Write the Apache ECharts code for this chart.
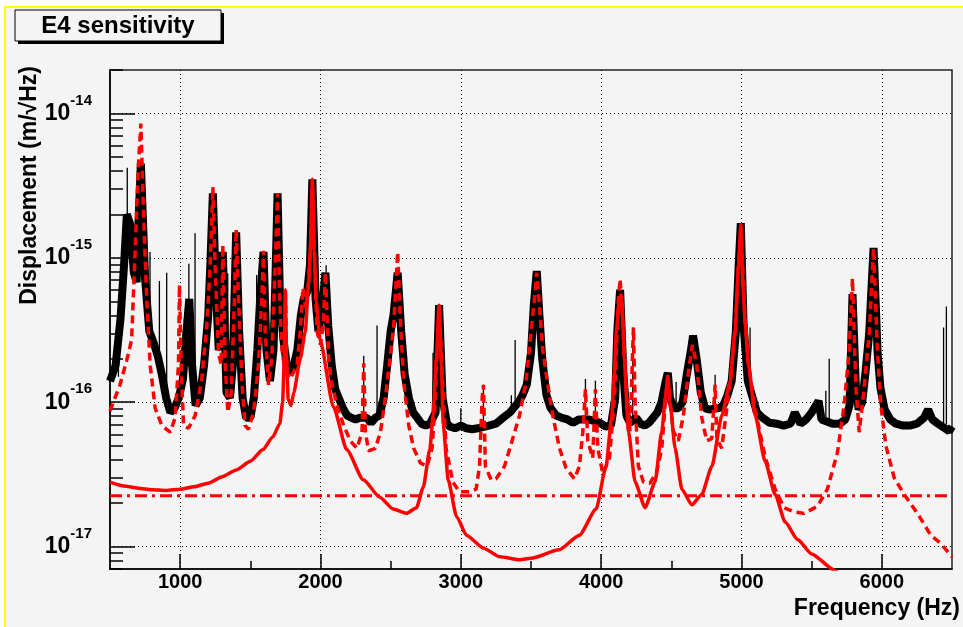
<!DOCTYPE html>
<html>
<head>
<meta charset="utf-8">
<title>E4 sensitivity</title>
<script src="https://cdn.jsdelivr.net/npm/echarts@6.0.0/dist/echarts.min.js"></script>
<style>
html, body { margin: 0; padding: 0; background: #fff; }
#chart { width: 963px; height: 627px; }
</style>
</head>
<body>
<div id="chart"></div>
<script>
// axis ranges / tick values
var xMin = 500, xMax = 6500;
var yMin = 7e-18, yMax = 2e-14;
var xMajor = [1000, 2000, 3000, 4000, 5000, 6000];
var xMinor = [1500, 2500, 3500, 4500, 5500];
var yMajor = [1e-17, 1e-16, 1e-15, 1e-14];
var yDecades = [1e-18, 1e-17, 1e-16, 1e-15, 1e-14];

// measured spectrum (black), [Hz, m/sqrt(Hz)]
var blackPts = [
  [500,1.4e-16],[540,1.8e-16],[575,3.8e-16],[600,8.9e-16],[620,2.0e-15],[645,1.7e-15],[670,7.9e-16],[690,6.8e-16],
  [705,2.0e-15],[720,4.5e-15],[735,1.8e-15],[750,7.2e-16],[780,3.1e-16],[810,2.6e-16],[840,2.1e-16],[870,1.55e-16],
  [900,1.07e-16],[930,8.5e-17],[960,9.1e-17],[990,1.07e-16],[1020,1.45e-16],[1045,3.1e-16],[1065,5.2e-16],[1085,1.8e-16],
  [1110,9.5e-17],[1140,1.07e-16],[1170,1.8e-16],[1200,4.0e-16],[1215,8.9e-16],[1233,2.8e-15],[1255,5.8e-16],[1275,2.3e-16],
  [1292,3.2e-16],[1304,1.1e-15],[1318,3.2e-16],[1330,1.17e-16],[1355,1.07e-16],[1375,1.8e-16],[1399,1.5e-15],[1420,3.1e-16],
  [1445,1.07e-16],[1470,7.8e-17],[1500,7.8e-17],[1525,1.07e-16],[1550,2.3e-16],[1570,5.2e-16],[1594,1.1e-15],[1615,2.3e-16],
  [1640,1.4e-16],[1665,2.3e-16],[1680,7.9e-16],[1694,2.8e-15],[1710,5.8e-16],[1735,2.75e-16],[1760,1.8e-16],[1785,1.6e-16],
  [1810,1.8e-16],[1835,2.3e-16],[1860,4.0e-16],[1880,5.2e-16],[1905,5.8e-16],[1925,8.9e-16],[1942,3.5e-15],[1965,5.2e-16],
  [1985,3.1e-16],[2010,4.3e-16],[2035,7.9e-16],[2055,3.4e-16],[2080,1.8e-16],[2105,1.23e-16],[2130,1.07e-16],[2160,9.1e-17],
  [2190,8.1e-17],[2220,7.8e-17],[2250,7.6e-17],[2280,7.8e-17],[2330,7.8e-17],[2360,7.2e-17],[2390,7.8e-17],[2420,8.1e-17],
  [2450,1.07e-16],[2475,1.8e-16],[2500,3.1e-16],[2520,4.0e-16],[2550,7.9e-16],[2575,3.1e-16],[2600,1.55e-16],[2630,1.07e-16],
  [2660,8.5e-17],[2690,7.8e-17],[2720,7.1e-17],[2750,6.9e-17],[2780,7.1e-17],[2820,8.5e-17],[2845,4.7e-16],[2870,1.07e-16],
  [2900,7.2e-17],[2920,6.8e-17],[2960,6.6e-17],[3000,6.9e-17],[3040,6.6e-17],[3080,6.5e-17],[3120,6.6e-17],[3200,6.9e-17],
  [3250,7.1e-17],[3300,7.8e-17],[3350,8.5e-17],[3410,1.0e-16],[3440,1.12e-16],[3470,1.32e-16],[3500,2.2e-16],[3520,4.7e-16],
  [3541,8.1e-16],[3560,4.0e-16],[3580,2.0e-16],[3610,1.12e-16],[3640,9.1e-17],[3680,8.1e-17],[3720,7.8e-17],[3760,7.6e-17],
  [3800,7.2e-17],[3840,7.6e-17],[3915,7.6e-17],[3990,7.2e-17],[4030,6.8e-17],[4070,6.9e-17],[4100,1.07e-16],[4115,3.1e-16],
  [4135,6.0e-16],[4158,1.6e-16],[4180,8.1e-17],[4205,7.2e-17],[4250,7.8e-17],[4280,7.1e-17],[4310,6.9e-17],[4340,7.2e-17],
  [4370,7.8e-17],[4400,8.5e-17],[4430,1.0e-16],[4460,1.4e-16],[4475,1.6e-16],[4490,1.07e-16],[4520,9.1e-17],[4550,9.1e-17],
  [4580,1.0e-16],[4610,1.55e-16],[4640,2.3e-16],[4655,2.9e-16],[4680,2.0e-16],[4710,1.17e-16],[4740,9.1e-17],[4770,8.9e-17],
  [4840,9.1e-17],[4870,9.5e-17],[4900,1.12e-16],[4930,1.4e-16],[4960,3.1e-16],[4980,8.9e-16],[4995,1.74e-15],[5015,3.4e-16],
  [5045,1.4e-16],[5080,1.07e-16],[5110,8.5e-17],[5150,7.8e-17],[5200,7.2e-17],[5250,7.1e-17],[5300,6.9e-17],[5350,7.1e-17],
  [5380,8.5e-17],[5420,7.1e-17],[5460,7.6e-17],[5500,8.5e-17],[5549,1.02e-16],[5570,7.6e-17],[5650,7.1e-17],[5700,7.1e-17],
  [5740,7.6e-17],[5770,9.5e-17],[5791,5.6e-16],[5815,1.26e-16],[5835,8.9e-17],[5860,1.0e-16],[5885,1.66e-16],[5910,3.0e-16],
  [5941,1.17e-15],[5970,2.2e-16],[5990,1.26e-16],[6020,8.9e-17],[6060,7.6e-17],[6100,7.1e-17],[6150,6.9e-17],[6200,6.9e-17],
  [6250,7.1e-17],[6300,7.8e-17],[6330,8.9e-17],[6360,7.6e-17],[6400,7.1e-17],[6480,6.3e-17],[6500,6.8e-17]
];

// narrow lines on top of the measured spectrum
var spikeFreq = [560, 623, 785, 852, 904, 1062, 1106, 1339, 1545, 2040, 2308, 2403, 2802, 3000, 3161, 3360, 3387, 3888, 3959, 4225, 4534, 4812, 5061, 5601, 5625, 6440, 6460];
var spikeBase = [1.5e-16, 1.8e-15, 3.2e-16, 2.0e-16, 1.1e-16, 4.5e-16, 1.0e-16, 1.1e-16, 2.0e-16, 6.5e-16, 7.8e-17, 7.8e-17, 7.5e-17, 6.9e-17, 6.6e-17, 8.5e-17, 9.0e-17, 7.6e-17, 7.6e-17, 7.5e-17, 9.1e-17, 8.9e-17, 1.2e-16, 7.5e-17, 7.5e-17, 7.0e-17, 7.0e-17];
var spikeTop  = [4.0e-16, 4.2e-15, 1.1e-15, 6.9e-16, 7.9e-16, 9.1e-16, 1.48e-15, 7.8e-16, 7.6e-16, 8.9e-16, 2.1e-16, 3.4e-16, 2.2e-16, 9.1e-17, 1.32e-16, 1.12e-16, 2.7e-16, 1.45e-16, 1.41e-16, 3.2e-16, 1.38e-16, 1.55e-16, 3.3e-16, 1.2e-16, 2.0e-16, 3.3e-16, 4.6e-16];

// red dashed model
var dashedPts = [
  [500,8.7e-17],[571,1.32e-16],[619,1.95e-16],[654,2.7e-16],[679,1.1e-15],[703,4.4e-15],[720,8.5e-15],[739,2.0e-15],
  [762,5.2e-16],[786,1.82e-16],[822,9.1e-17],[869,6.9e-17],[929,6.2e-17],[964,7.8e-17],[988,1.82e-16],[995,6.5e-16],
  [1007,1.82e-16],[1024,6.9e-17],[1059,6.6e-17],[1107,8.1e-17],[1154,1.45e-16],[1190,3.4e-16],[1214,8.9e-16],[1233,3.1e-15],
  [1249,8.9e-16],[1273,2.2e-16],[1292,1.82e-16],[1304,1.23e-15],[1321,1.82e-16],[1340,8.5e-17],[1364,1.17e-16],[1387,5.2e-16],
  [1399,1.58e-15],[1416,5.2e-16],[1440,1.38e-16],[1463,6.9e-17],[1487,6.5e-17],[1523,8.5e-17],[1558,1.82e-16],[1582,5.2e-16],
  [1594,1.12e-15],[1606,3.1e-16],[1630,1.32e-16],[1653,2.0e-16],[1677,8.9e-16],[1694,2.8e-15],[1709,5.2e-16],[1726,2.3e-16],
  [1742,1.78e-16],[1750,5.6e-16],[1760,1.58e-16],[1785,1.45e-16],[1833,1.82e-16],[1856,3.1e-16],[1875,6.2e-16],[1895,4.5e-16],
  [1916,6.8e-16],[1930,1.26e-15],[1942,3.5e-15],[1958,1.0e-15],[1975,3.1e-16],[2000,2.5e-16],[2020,3.5e-16],[2035,7.9e-16],
  [2058,2.0e-16],[2082,1.32e-16],[2118,9.5e-17],[2165,6.9e-17],[2213,5.4e-17],[2260,4.8e-17],[2296,6.2e-17],[2308,1.86e-16],
  [2320,6.2e-17],[2343,4.6e-17],[2391,4.8e-17],[2427,6.2e-17],[2462,1.07e-16],[2498,2.1e-16],[2522,3.4e-16],[2550,1.1e-15],
  [2569,3.8e-16],[2593,1.38e-16],[2629,6.9e-17],[2664,4.8e-17],[2712,3.8e-17],[2759,3.6e-17],[2795,4.8e-17],[2819,1.07e-16],
  [2845,4.7e-16],[2870,1.41e-16],[2895,4.8e-17],[2943,2.8e-17],[2990,2.4e-17],[3061,2.4e-17],[3109,2.5e-17],[3133,3.6e-17],
  [3152,1.07e-16],[3161,1.32e-16],[3175,3.6e-17],[3216,2.9e-17],[3251,2.95e-17],[3311,3.6e-17],[3370,5.6e-17],[3418,8.1e-17],
  [3465,1.38e-16],[3501,3.1e-16],[3525,5.2e-16],[3541,7.9e-16],[3560,4.7e-16],[3584,2.3e-16],[3620,1.32e-16],[3655,8.1e-17],
  [3703,4.8e-17],[3750,3.5e-17],[3810,2.95e-17],[3845,3.6e-17],[3869,6.2e-17],[3888,1.23e-16],[3905,5.4e-17],[3940,4.1e-17],
  [3959,1.23e-16],[3976,4.8e-17],[4012,3.2e-17],[4059,4.1e-17],[4095,1.07e-16],[4123,5.2e-16],[4135,7.1e-16],[4158,3.1e-16],
  [4182,1.07e-16],[4206,6.3e-17],[4230,3.3e-16],[4242,1.0e-16],[4265,3.6e-17],[4301,2.8e-17],[4348,2.75e-17],[4396,3.3e-17],
  [4432,4.8e-17],[4460,1.07e-16],[4475,1.58e-16],[4490,1.0e-16],[4515,6.3e-17],[4550,5.4e-17],[4586,8.1e-17],[4622,1.62e-16],
  [4650,2.5e-16],[4681,1.82e-16],[4717,7.8e-17],[4752,5.4e-17],[4788,5.6e-17],[4812,1.32e-16],[4824,5.6e-17],[4859,4.8e-17],
  [4919,1.38e-16],[4955,3.2e-16],[4979,8.9e-16],[4996,1.7e-15],[5026,3.6e-16],[5050,1.82e-16],[5097,8.9e-17],[5168,4.2e-17],
  [5240,2.5e-17],[5304,1.86e-17],[5375,1.74e-17],[5446,1.7e-17],[5541,1.9e-17],[5612,2.5e-17],[5684,4.5e-17],[5731,9.5e-17],
  [5767,2.24e-16],[5791,7.2e-16],[5815,1.26e-16],[5839,6.2e-17],[5874,1.26e-16],[5910,2.95e-16],[5941,1.17e-15],[5969,2.24e-16],
  [5993,9.5e-17],[6029,5.0e-17],[6088,3.0e-17],[6159,2.3e-17],[6254,1.7e-17],[6349,1.2e-17],[6421,1.05e-17],[6500,8.5e-18]
];

// red solid model
var solidPts = [
  [500,2.8e-17],[600,2.63e-17],[700,2.54e-17],[800,2.48e-17],[900,2.45e-17],[1000,2.5e-17],[1100,2.6e-17],[1200,2.75e-17],
  [1300,3.05e-17],[1400,3.4e-17],[1500,3.9e-17],[1590,4.7e-17],[1660,5.75e-17],[1710,7.1e-17],[1730,1.0e-16],[1742,2.0e-16],
  [1750,6.0e-16],[1758,2.0e-16],[1770,1.05e-16],[1790,9.5e-17],[1810,1.17e-16],[1856,2.0e-16],[1892,3.1e-16],[1916,6.8e-16],
  [1930,1.23e-15],[1942,3.5e-15],[1955,1.12e-15],[1970,5.0e-16],[1997,2.7e-16],[2092,9.3e-17],[2187,4.7e-17],[2305,2.9e-17],
  [2423,2.2e-17],[2518,1.82e-17],[2613,1.7e-17],[2684,1.86e-17],[2732,2.57e-17],[2779,4.7e-17],[2803,8.3e-17],[2826,2.0e-16],
  [2845,4.7e-16],[2862,1.78e-16],[2874,7.1e-17],[2910,2.9e-17],[2969,1.62e-17],[3040,1.2e-17],[3159,9.8e-18],[3278,8.5e-18],
  [3420,8.1e-18],[3500,8.3e-18],[3700,9.5e-18],[3845,1.2e-17],[3964,1.82e-17],[4035,3.6e-17],[4075,7.9e-17],[4094,1.6e-16],
  [4110,3.2e-16],[4130,5.2e-16],[4148,5.0e-16],[4165,2.0e-16],[4194,6.3e-17],[4242,2.8e-17],[4313,1.86e-17],[4384,2.8e-17],
  [4432,6.3e-17],[4460,1.12e-16],[4475,1.48e-16],[4490,1.0e-16],[4527,4.8e-17],[4575,2.5e-17],[4646,1.95e-17],[4717,2.3e-17],
  [4789,3.6e-17],[4860,8.1e-17],[4919,1.38e-16],[4955,3.1e-16],[4979,8.9e-16],[4996,1.7e-15],[5010,6.3e-16],[5026,3.6e-16],
  [5050,1.82e-16],[5097,8.1e-17],[5168,3.9e-17],[5240,2.3e-17],[5311,1.48e-17],[5400,1.12e-17],[5500,8.9e-18],[5660,6.9e-18],
  [5750,5.6e-18]
];

// flat red dash-dot level
var floorPts = [[500, 2.25e-17], [6500, 2.25e-17]];

var FONT = '"Liberation Sans", Arial, Helvetica, sans-serif';
var BG = '#f4f4f4';

// minor ticks of the log axis: 2..9 x each decade
var yMinor = [];
yDecades.forEach(function (d) {
  for (var k = 2; k <= 9; k++) {
    var v = k * d;
    if (v >= yMin && v <= yMax) yMinor.push(v);
  }
});

var spikePts = [];
for (var i = 0; i < spikeFreq.length; i++) {
  spikePts.push([spikeFreq[i], spikeBase[i]], [spikeFreq[i], spikeTop[i]], [spikeFreq[i], '-']);
}

var chart = echarts.init(document.getElementById('chart'));

var dotted = { color: '#000', width: 1, type: [1, 3] };
var tickLine = { color: '#000', width: 1.5 };

var option = {
  animation: false,
  backgroundColor: BG,
  grid: {
    left: 110, right: 11, top: 70, bottom: 58,
    show: true, borderColor: '#222', borderWidth: 1.5, backgroundColor: 'transparent'
  },
  xAxis: [{
    type: 'value', min: xMin, max: xMax,
    axisLine: { onZero: false, lineStyle: tickLine },
    axisTick: { inside: true, length: 15, customValues: xMajor, lineStyle: tickLine },
    axisLabel: {
      customValues: xMajor, margin: 3, color: '#000',
      fontFamily: FONT, fontWeight: 'bold', fontSize: 20,
      formatter: function (v) { return String(v); }
    },
    splitLine: { show: true, lineStyle: dotted }
  }, {
    type: 'value', min: xMin, max: xMax, position: 'bottom',
    axisLine: { show: false, onZero: false },
    axisTick: { inside: true, length: 8, customValues: xMinor, lineStyle: tickLine },
    axisLabel: { show: false },
    splitLine: { show: false }
  }],
  yAxis: [{
    type: 'log', logBase: 10, min: yMin, max: yMax,
    axisLine: { show: true, onZero: false, lineStyle: tickLine },
    axisTick: { show: true, inside: true, length: 25, customValues: yMajor, lineStyle: tickLine },
    axisLabel: {
      customValues: yMajor, margin: 18, color: '#000',
      formatter: function (v) {
        return '{b|10}{s|' + Math.round(Math.log10(v)) + '}';
      },
      rich: {
        b: { fontFamily: FONT, fontWeight: 'bold', fontSize: 23, color: '#000' },
        s: { fontFamily: FONT, fontWeight: 'bold', fontSize: 15, color: '#000', padding: [0, 0, 26, 0] }
      }
    },
    splitLine: { show: true, lineStyle: dotted }
  }, {
    type: 'log', logBase: 10, min: yMin, max: yMax, position: 'left',
    axisLine: { show: false, onZero: false },
    axisTick: { show: true, inside: true, length: 13, customValues: yMinor, lineStyle: tickLine },
    axisLabel: { show: false },
    splitLine: { show: false }
  }],
  graphic: [
    // canvas edge
    { type: 'rect', silent: true, shape: { x: 0, y: 0, width: 963, height: 6 }, style: { fill: '#fff' } },
    { type: 'rect', silent: true, shape: { x: 0, y: 0, width: 4, height: 627 }, style: { fill: '#fff' } },
    { type: 'rect', silent: true, shape: { x: 4, y: 6, width: 959, height: 2 }, style: { fill: '#ffff00' } },
    { type: 'rect', silent: true, shape: { x: 4, y: 6, width: 2, height: 621 }, style: { fill: '#ffff00' } },
    // title box
    { type: 'rect', silent: true, shape: { x: 18, y: 13, width: 206, height: 31 }, style: { fill: '#000' } },
    { type: 'rect', silent: true, shape: { x: 15, y: 10, width: 206, height: 31 }, style: { fill: BG, stroke: '#000', lineWidth: 1 } },
    { type: 'text', silent: true, x: 118, y: 26,
      style: { text: 'E4 sensitivity', align: 'center', verticalAlign: 'middle', font: 'bold 24px ' + FONT, fill: '#000' } },
    // axis titles
    { type: 'text', silent: true, x: 30, y: 66, rotation: Math.PI / 2,
      style: { text: 'Displacement (m/√Hz)', align: 'right', verticalAlign: 'middle', font: 'bold 23px ' + FONT, fill: '#000' } },
    { type: 'text', silent: true, x: 960, y: 609,
      style: { text: 'Frequency (Hz)', align: 'right', verticalAlign: 'middle', font: 'bold 23px ' + FONT, fill: '#000' } }
  ],
  series: [
    { name: 'measured', type: 'line', data: blackPts, showSymbol: false, z: 2,
      lineStyle: { color: '#000', width: 8 } },
    { name: 'lines', type: 'line', data: spikePts, showSymbol: false, connectNulls: false, z: 2,
      lineStyle: { color: '#000', width: 1.3 } },
    { name: 'total', type: 'line', data: dashedPts, showSymbol: false, z: 3,
      lineStyle: { color: '#ff0000', width: 3.5, type: [8, 5] } },
    { name: 'modes', type: 'line', data: solidPts, showSymbol: false, z: 4,
      smooth: 0.2, smoothMonotone: 'x',
      lineStyle: { color: '#ff0000', width: 3.5 } },
    { name: 'level', type: 'line', data: floorPts, showSymbol: false, z: 4,
      lineStyle: { color: '#ff0000', width: 3, type: [12, 5, 3, 5] } }
  ]
};

chart.setOption(option);
</script>
</body>
</html>
